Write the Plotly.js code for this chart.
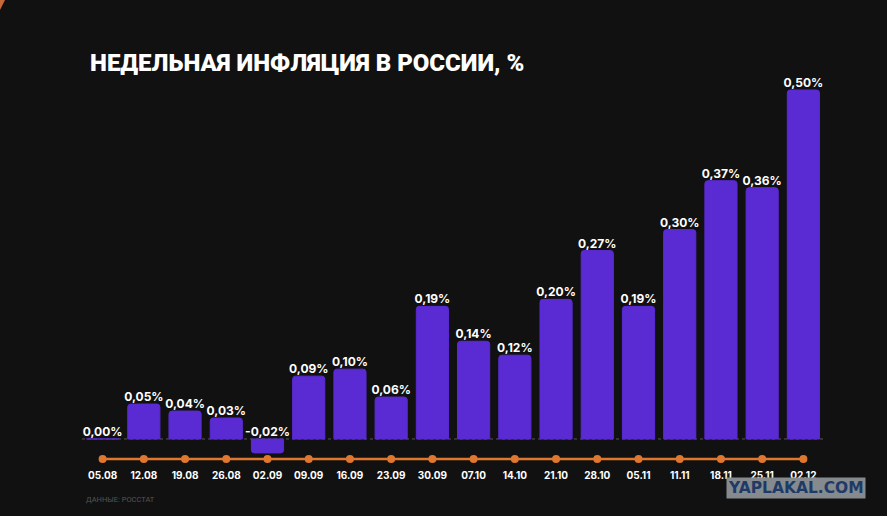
<!DOCTYPE html>
<html>
<head>
<meta charset="utf-8">
<script src="https://cdn.plot.ly/plotly-3.0.1.min.js"></script>
<style>html,body{margin:0;padding:0;background:#111111;}#chart{width:887px;height:516px;}</style>
</head>
<body>
<div id="chart"></div>
<script>
var categories = ["05.08","12.08","19.08","26.08","02.09","09.09","16.09","23.09","30.09","07.10","14.10","21.10","28.10","05.11","11.11","18.11","25.11","02.12"];
var values = [0.00,0.05,0.04,0.03,-0.02,0.09,0.10,0.06,0.19,0.14,0.12,0.20,0.27,0.19,0.30,0.37,0.36,0.50];
var timelineLevel = categories.map(function(){return 0;});

var labels = values.map(function(v){ return v.toFixed(2).replace('.', ',') + '%'; });
var labelY = values.map(function(v){ return Math.max(v, 0); });

var bars = {
  type: 'bar', x: categories, y: values,
  marker: {color: '#5a2bd2', line: {color: '#5a2bd2', width: 1}},
  width: 0.78, hoverinfo: 'skip'
};
var barLabels = {
  type: 'scatter', mode: 'text', x: categories, y: labelY, text: labels,
  textposition: 'top center', cliponaxis: false,
  textfont: {family: 'Inter, Roboto, sans-serif', size: 12, color: '#ffffff', weight: 700},
  hoverinfo: 'skip'
};
var timeline = {
  type: 'scatter', mode: 'lines+markers', x: categories, y: timelineLevel, yaxis: 'y2',
  line: {color: '#e0772e', width: 2.5},
  marker: {color: '#e0772e', size: 8},
  cliponaxis: false, hoverinfo: 'skip'
};

var layout = {
  width: 887, height: 516,
  paper_bgcolor: '#111111', plot_bgcolor: '#111111',
  margin: {l: 82, r: 63, t: 62, b: 48},
  showlegend: false,
  barcornerradius: 3,
  title: {
    text: 'НЕДЕЛЬНАЯ ИНФЛЯЦИЯ В РОССИИ, %',
    xref: 'container', yref: 'container',
    x: 0.1015, xanchor: 'left', y: 0.878, yanchor: 'middle',
    font: {family: 'Roboto, sans-serif', size: 24, color: '#ffffff', weight: 900}
  },
  xaxis: {
    type: 'category', range: [-0.5, 17.5],
    showgrid: false, zeroline: false, showline: false, ticks: '',
    tickfont: {family: 'Inter, Roboto, sans-serif', size: 10, color: '#ffffff', weight: 700},
    fixedrange: true
  },
  yaxis: {
    range: [-0.0416, 0.5401], visible: false, showgrid: false, zeroline: false, fixedrange: true
  },
  yaxis2: {
    overlaying: 'y', range: [-0.0222, 0.9778], visible: false, showgrid: false, zeroline: false, fixedrange: true
  },
  shapes: [
    {type: 'line', xref: 'paper', yref: 'y', x0: 0, x1: 1, y0: 0, y1: 0,
     line: {color: '#555555', width: 1, dash: 'dot'}, layer: 'below'},
    {type: 'path', xref: 'paper', yref: 'paper',
     path: 'M -0.1105 1.1527 L -0.1038 1.1527 L -0.1105 1.128 Z',
     fillcolor: '#c8673a', line: {width: 0}}
  ],
  annotations: [
    {text: 'ДАННЫЕ: РОССТАТ', xref: 'paper', yref: 'paper', x: 0.003, y: -0.078,
     xanchor: 'left', yanchor: 'middle', showarrow: false,
     font: {family: 'Roboto, sans-serif', size: 7.5, color: '#555555'}},
    {text: '<b>YAPLAKAL.COM</b>', xref: 'paper', yref: 'paper', x: 1.0566, y: -0.022,
     xanchor: 'right', yanchor: 'top', showarrow: false, bgcolor: '#858a8e',
     borderpad: 1,
     font: {family: 'DejaVu Sans, sans-serif', size: 15.5, color: '#1f3a66'}}
  ]
};

Plotly.newPlot('chart', [bars, timeline, barLabels], layout, {displayModeBar: false, staticPlot: true});
</script>
</body>
</html>
